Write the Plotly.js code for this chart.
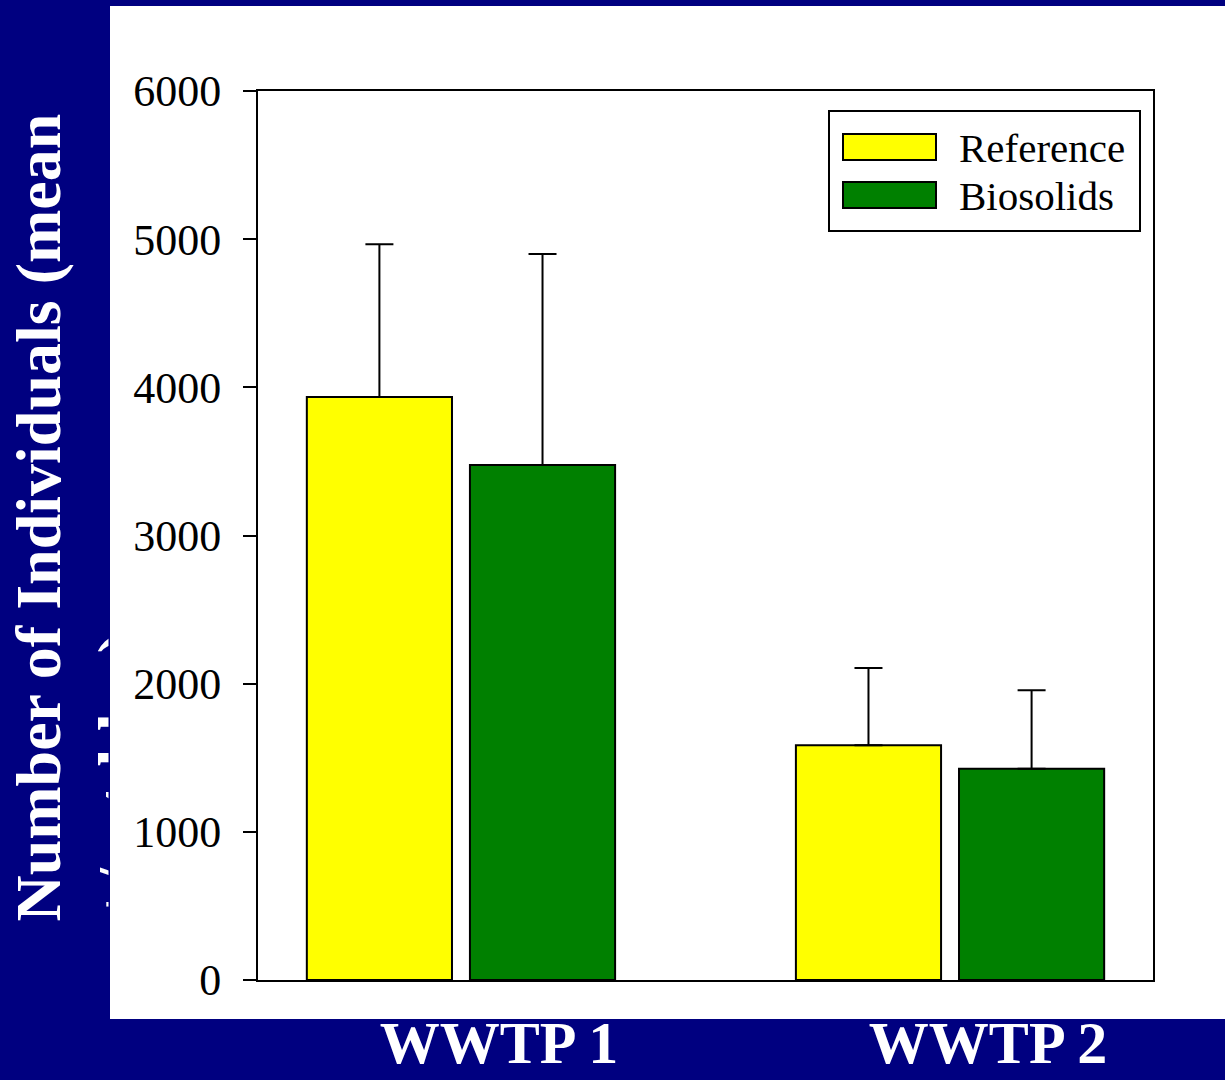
<!DOCTYPE html>
<html>
<head>
<meta charset="utf-8">
<script src="https://cdn.plot.ly/plotly-3.0.1.min.js"></script>
<style>html,body{margin:0;padding:0;background:#000080;}</style>
</head>
<body>
<div id="chart" style="width:1225px;height:1080px;"></div>
<script>
// ---- data ----
const sites = ["WWTP 1", "WWTP 2"];
const referenceMean = [3935, 1585];
const referenceSD = [1030, 520];
const biosolidsMean = [3475, 1425];
const biosolidsSD = [1425, 530];
const seriesNames = ["Reference", "Biosolids"];
const yTicks = [0, 1000, 2000, 3000, 4000, 5000, 6000];
const yTitleLine1 = "Number of Individuals (mean";
const yTitleLine2 = "+/- stddev)";

// ---- layout helpers (pixel -> paper) ----
const W = 1225, H = 1080;
const L = 258, R = 1153, T = 91, B = 980;
const px = x => (x - L) / (R - L);
const py = y => (B - y) / (B - T);

const serif = "'Liberation Serif', 'Times New Roman', serif";
const colors = ["#ffff00", "#008000"];

const traces = [
  {
    type: "bar", name: seriesNames[0], x: sites, y: referenceMean,
    marker: {color: colors[0], line: {color: "#000", width: 2}},
    error_y: {type: "data", symmetric: false, array: referenceSD, arrayminus: [0, 0],
              color: "#000", thickness: 2, width: 14}
  },
  {
    type: "bar", name: seriesNames[1], x: sites, y: biosolidsMean,
    marker: {color: colors[1], line: {color: "#000", width: 2}},
    error_y: {type: "data", symmetric: false, array: biosolidsSD, arrayminus: [0, 0],
              color: "#000", thickness: 2, width: 14}
  }
];

const shapes = [
  // white panel
  {type: "rect", xref: "paper", yref: "paper", layer: "below",
   x0: px(110), x1: px(1230), y0: py(1019), y1: py(6),
   fillcolor: "#ffffff", line: {width: 0}},
  // legend box
  {type: "rect", xref: "paper", yref: "paper", layer: "above",
   x0: px(829), x1: px(1140), y0: py(231), y1: py(111),
   fillcolor: "rgba(255,255,255,0)", line: {color: "#000", width: 2}},
  // legend swatches
  {type: "rect", xref: "paper", yref: "paper", layer: "above",
   x0: px(843), x1: px(936), y0: py(160), y1: py(134),
   fillcolor: colors[0], line: {color: "#000", width: 2}},
  {type: "rect", xref: "paper", yref: "paper", layer: "above",
   x0: px(843), x1: px(936), y0: py(208), y1: py(182),
   fillcolor: colors[1], line: {color: "#000", width: 2}}
];

const titleFont = {family: serif, size: 64, color: "#ffffff", weight: "bold"};

const annotations = [
  {xref: "paper", yref: "paper", x: px(957), y: py(148), xanchor: "left", yanchor: "middle",
   text: seriesNames[0], showarrow: false, font: {family: serif, size: 41, color: "#000"}},
  {xref: "paper", yref: "paper", x: px(957), y: py(196), xanchor: "left", yanchor: "middle",
   text: seriesNames[1], showarrow: false, font: {family: serif, size: 41, color: "#000"}},
  {xref: "paper", yref: "paper", x: px(0), y: py(924), xanchor: "left", yanchor: "bottom",
   textangle: -90, align: "left", text: yTitleLine1, showarrow: false, font: titleFont},
  // second title line: only the part outside the white panel shows
  {xref: "paper", yref: "paper", x: px(83), y: py(924), xanchor: "left", yanchor: "bottom",
   textangle: -90, align: "left", valign: "top", height: 24, text: yTitleLine2,
   showarrow: false, borderpad: 0, font: titleFont}
];

const layout = {
  width: W, height: H,
  margin: {l: L, r: W - R, t: T, b: H - B, pad: 0},
  paper_bgcolor: "#000080",
  plot_bgcolor: "#ffffff",
  showlegend: false,
  barmode: "group",
  bargap: 0.333,
  bargroupgap: 0.11,
  font: {family: serif, color: "#000"},
  xaxis: {
    type: "category", range: [-0.415, 1.415], automargin: false,
    showline: true, linecolor: "#000", linewidth: 2, mirror: true,
    ticks: "", showgrid: false, zeroline: false,
    ticklabelstandoff: 9,
    ticklabelshift: 38,
    tickfont: {family: serif, size: 60, color: "#ffffff", weight: "bold"}
  },
  yaxis: {
    range: [0, 6000], tickvals: yTicks, ticktext: yTicks.map(String), automargin: false,
    showline: true, linecolor: "#000", linewidth: 2, mirror: true,
    ticks: "outside", ticklen: 13, tickwidth: 2, tickcolor: "#000",
    ticklabelstandoff: 13,
    showgrid: false, zeroline: false,
    tickfont: {family: serif, size: 44, color: "#000"}
  },
  shapes: shapes,
  annotations: annotations
};

Plotly.newPlot("chart", traces, layout, {displayModeBar: false, staticPlot: true});
</script>
</body>
</html>
